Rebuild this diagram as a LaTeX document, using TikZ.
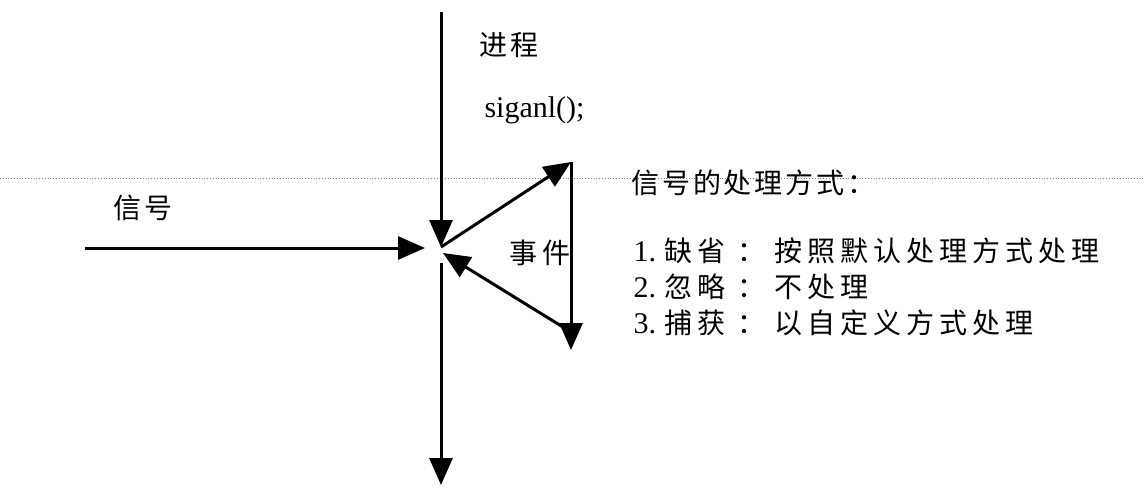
\documentclass[tikz,border=0pt]{standalone}
\usepackage{fontspec}
\setmainfont{Liberation Serif}
\newfontfamily\cjk[LetterSpace=18]{Noto Sans CJK SC}
\newfontfamily\cjktight[LetterSpace=10]{Noto Sans CJK SC}
\usetikzlibrary{arrows.meta}
\newcommand{\zh}[1]{{\cjk #1}}
\newcommand{\zht}[1]{{\cjktight #1}}
\newcommand{\way}[3]{\fontsize{30}{36.5}\selectfont #1.\hspace{8pt}\zh{\fontsize{28}{36.5}\selectfont #2\hspace{12pt}：\hspace{9pt}#3}}

\begin{document}
\begin{tikzpicture}[
 x=1pt,
 y=-1pt,
 line width=3pt,
 >={Triangle[width=23pt,length=27pt]},
 txt/.style={
  inner sep=0pt,
  font=\fontsize{28}{36}\selectfont,
 },
 code/.style={
  inner sep=0pt,
  font=\fontsize{30}{36}\selectfont,
 },
 guide/.style={
  line width=0.8pt,
  draw=gray,
  dotted,
 }
]
\useasboundingbox (0,0) rectangle (1144,490);

\coordinate (dl) at (0,178);
\coordinate (dr) at (1144,178);
\draw[guide] (dl) -- (dr);

\coordinate (top) at (441,12);
\coordinate (hit) at (441,247);
\coordinate (below) at (441,263);
\coordinate (bottom) at (441,485);
\coordinate (sigstart) at (85,248);
\coordinate (sigend) at (425,248);
\coordinate (evtop) at (571,162);
\coordinate (evbot) at (571,350);
\coordinate (evback) at (571,332);
\coordinate (evret) at (443,253);

\draw[->] (top) -- (hit);
\draw[->] (below) -- (bottom);
\draw[->] (sigstart) -- (sigend);
\draw[->] (hit) -- (evtop);
\draw[->] (evtop) -- (evbot);
\draw[->] (evback) -- (evret);

\node at (478,45) [txt,anchor=west] (process) {\zht{进程}};
\node at (483,117) [code,anchor=base west] (call) {siganl();};
\node at (112,208) [txt,anchor=west] (signal) {{\cjk 信\hspace{3pt}号}};
\node at (540,253) [txt] (event) {\zh{事件}};
\node at (630,183) [txt,anchor=west] (title) {\zht{信号的处理方式：}};
\node at (632,236) [txt,anchor=north west,align=left] (ways) {%
 \way{1}{缺省}{按照默认处理方式处理}\\
 \way{2}{忽略}{不处理}\\
 \way{3}{捕获}{以自定义方式处理}};

\end{tikzpicture}
\end{document}
